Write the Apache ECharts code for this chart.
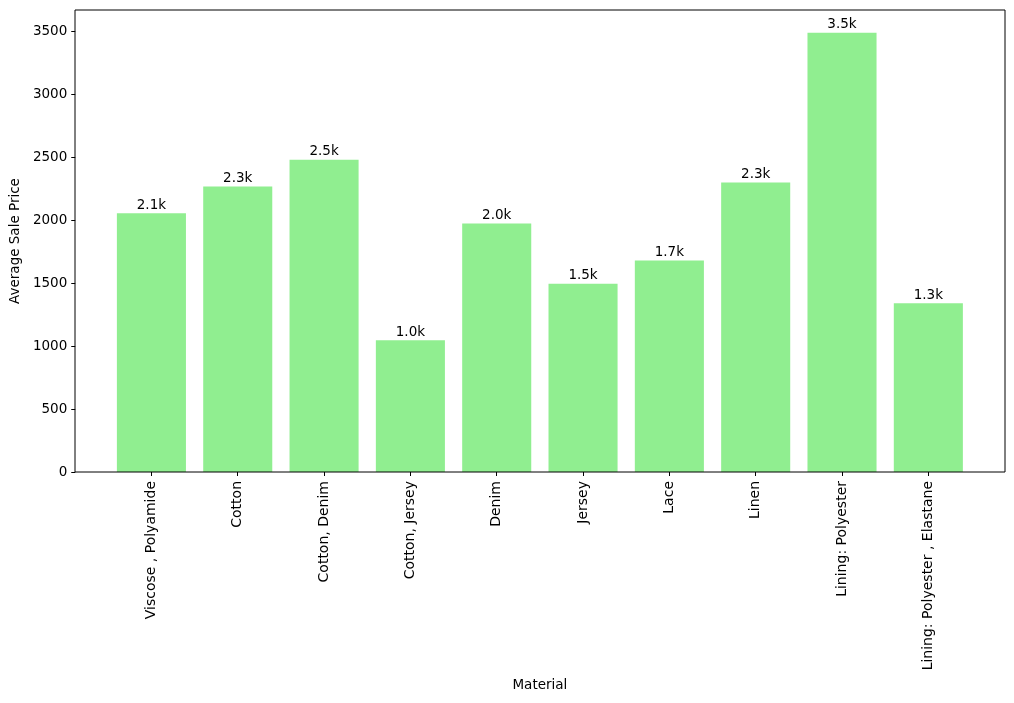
<!DOCTYPE html>
<html>
<head>
<meta charset="utf-8">
<script src="https://cdn.jsdelivr.net/npm/echarts@6/dist/echarts.min.js"></script>
<style>
  html, body { margin: 0; padding: 0; background: #fff; }
  #main { width: 1014px; height: 703px; }
</style>
</head>
<body>
<div id="main"></div>
<script>
var materials = ['Viscose , Polyamide', 'Cotton', 'Cotton, Denim', 'Cotton, Jersey', 'Denim',
    'Jersey', 'Lace', 'Linen', 'Lining: Polyester', 'Lining: Polyester , Elastane'];
var avgPrice = [2055, 2267, 2481, 1046, 1974, 1496, 1681, 2299, 3490, 1340];
var yTicks = [0, 500, 1000, 1500, 2000, 2500, 3000, 3500];

var font = 'DejaVu Sans';
var myChart = echarts.init(document.getElementById('main'));

option = {
    animation: false,
    textStyle: { fontFamily: font },
    grid: { left: 108, right: 42.5, top: 10, bottom: 231 },
    xAxis: {
        type: 'category',
        data: materials,
        name: 'Material',
        nameLocation: 'middle',
        nameGap: 206,
        nameTextStyle: { fontFamily: font, fontSize: 13.5, color: '#000' },
        axisLine: { show: false },
        axisTick: { show: true, alignWithLabel: true, length: 4, lineStyle: { color: '#000' } },
        axisLabel: {
            rotate: 90, interval: 0, margin: 9,
            fontFamily: font, fontSize: 14, color: '#000'
        },
        splitLine: { show: false }
    },
    yAxis: {
        type: 'value',
        min: 0,
        max: 3670,
        interval: 500,
        offset: 33,
        name: 'Average Sale Price',
        nameLocation: 'middle',
        nameGap: 53,
        nameTextStyle: { fontFamily: font, fontSize: 13.5, color: '#000' },
        axisLine: { show: false },
        axisTick: { show: true, length: 4, lineStyle: { color: '#000' } },
        axisLabel: {
            margin: 8, fontFamily: font, fontSize: 13.5, color: '#000', showMaxLabel: false,
            formatter: function (v) { return yTicks.indexOf(v) >= 0 ? String(v) : ''; }
        },
        splitLine: { show: false }
    },
    graphic: [{
        type: 'rect',
        z: 100,
        shape: { x: 75, y: 10, width: 930, height: 462 },
        style: { fill: 'none', stroke: '#000', lineWidth: 1 }
    }],
    series: [{
        type: 'bar',
        data: avgPrice,
        barWidth: '80%',
        itemStyle: { color: '#90EE90' },
        label: {
            show: true,
            position: 'top',
            distance: 1,
            fontFamily: font,
            fontSize: 13.5,
            color: '#000',
            formatter: function (p) { return (p.value / 1000).toFixed(1) + 'k'; }
        }
    }]
};
myChart.setOption(option);
</script>
</body>
</html>
